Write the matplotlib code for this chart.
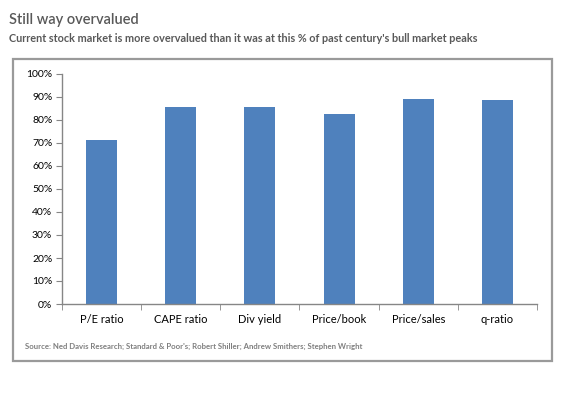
import matplotlib.pyplot as plt
from matplotlib.patches import Rectangle
import numpy as np

categories = ["P/E ratio", "CAPE ratio", "Div yield", "Price/book", "Price/sales", "q-ratio"]
values = [71.3, 85.8, 85.8, 82.4, 89.1, 88.7]
yticks = [0, 10, 20, 30, 40, 50, 60, 70, 80, 90, 100]

plt.rcParams['font.family'] = ['Lato', 'DejaVu Sans']

W, H = 569, 398
fig = plt.figure(figsize=(W / 100, H / 100), dpi=100)
fig.patch.set_facecolor('white')

# outer border box
fig.patches.append(Rectangle((13 / W, 1 - 361 / H), (552 - 13) / W, (361 - 59) / H,
                             transform=fig.transFigure, fill=False,
                             edgecolor='#9a9a9a', linewidth=1.6))

fig.text(9 / W, 1 - 20 / H, "Still way overvalued", fontsize=10.5, fontweight='semibold',
         color='#595959', va='center', ha='left')
fig.text(9 / W, 1 - 39 / H,
         "Current stock market is more overvalued than it was at this % of past century's bull market peaks",
         fontsize=7.8, fontweight='bold', color='#595959', va='center', ha='left')
fig.text(25 / W, 1 - 346 / H,
         "Source: Ned Davis Research; Standard & Poor's; Robert Shiller; Andrew Smithers; Stephen Wright",
         fontsize=5.6, fontweight='bold', color='#7f7f7f', va='center', ha='left')

ax = fig.add_axes([62 / W, 1 - 304 / H, (537 - 62) / W, (304 - 74) / H])
x = np.arange(len(categories))
ax.bar(x, values, width=0.39, color='#4F81BD')
ax.set_xlim(-0.5, len(categories) - 0.5)
ax.set_ylim(0, 100)
ax.set_yticks(yticks)
ax.set_yticklabels([f"{t}%" for t in yticks], fontsize=7.5, color='black')
ax.set_xticks(x)
ax.set_xticklabels(categories, fontsize=8)
ax.set_xticks(np.arange(len(categories) + 1) - 0.5, minor=True)
ax.tick_params(axis='x', which='major', length=0, pad=7)
ax.tick_params(axis='x', which='minor', length=4, color='#868686', direction='out')
ax.tick_params(axis='y', length=4, color='#868686', direction='out', pad=3)
for s in ['top', 'right']:
    ax.spines[s].set_visible(False)
for s in ['left', 'bottom']:
    ax.spines[s].set_color('#868686')
    ax.spines[s].set_linewidth(1)

fig.savefig('out.png', dpi=100)
